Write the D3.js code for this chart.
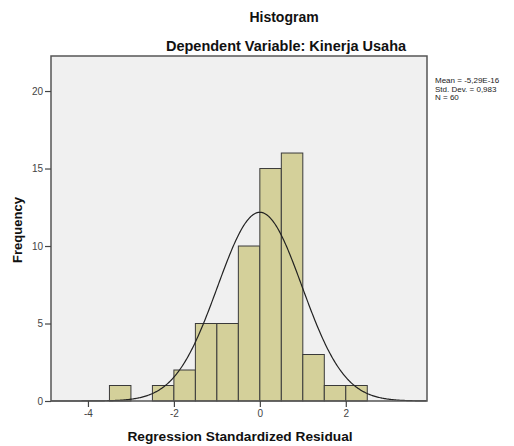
<!DOCTYPE html>
<html>
<head>
<meta charset="utf-8">
<script src="https://cdn.jsdelivr.net/npm/d3@7"></script>
<style>
	body { margin: 0; background: #fff; }
	text { font-family: "Liberation Sans", Arial, sans-serif; }
</style>
</head>
<body>
<div id="chart"></div>
<script>
var width = 514;
var height = 446;

// bin edges (lower bound of each 0.5 wide bin) and counts
var binStarts = [-3.5, -2.5, -2.0, -1.5, -1.0, -0.5, 0.0, 0.5, 1.0, 1.5, 2.0];
var binCounts = [1, 1, 2, 5, 5, 10, 15, 16, 3, 1, 1];
var binWidth = 0.5;

var xTicks = [-4, -2, 0, 2];
var yTicks = [0, 5, 10, 15, 20];

var statMean = -5.29e-16;
var statSd = 0.983;
var statN = 60;
var legendLines = ["Mean = -5,29E-16", "Std. Dev. = 0,983", "N = 60"];

var margin = { left: 51, right: 87, top: 56, bottom: 45 };

var x = d3.scaleLinear()
	.domain([-4.86, 3.89])
	.range([margin.left, width - margin.right]);

var y = d3.scaleLinear()
	.domain([0, 22.26])
	.range([height - margin.bottom, margin.top]);

var svg = d3.select("#chart")
	.append("svg")
		.attr("width", width)
		.attr("height", height)
	;

// plot background
svg.append("rect")
	.attr("x", x.range()[0])
	.attr("y", y.range()[1])
	.attr("width", x.range()[1] - x.range()[0])
	.attr("height", y.range()[0] - y.range()[1])
	.attr("fill", "#f0f0f0")
	;

// bars
svg.selectAll("rect.bar")
	.data(binStarts)
	.enter()
		.append("rect")
			.attr("class", "bar")
			.attr("x", d => x(d))
			.attr("width", d => x(d + binWidth) - x(d))
			.attr("y", (d, i) => y(binCounts[i]))
			.attr("height", (d, i) => y(0) - y(binCounts[i]))
			.attr("fill", "#d4d09a")
			.attr("stroke", "#3a3a3a")
			.attr("stroke-width", 1)
	;

// normal curve scaled to frequencies
var curvePts = d3.range(x.domain()[0], x.domain()[1] + 0.001, 0.02).map(function(v) {
	var z = (v - statMean) / statSd;
	var f = statN * binWidth / (statSd * Math.sqrt(2 * Math.PI)) * Math.exp(-0.5 * z * z);
	return [v, f];
});

svg.append("path")
	.datum(curvePts)
	.attr("fill", "none")
	.attr("stroke", "#222")
	.attr("stroke-width", 1.2)
	.attr("d", d3.line().x(d => x(d[0])).y(d => y(d[1])))
	;

// frame
svg.append("rect")
	.attr("x", x.range()[0])
	.attr("y", y.range()[1])
	.attr("width", x.range()[1] - x.range()[0])
	.attr("height", y.range()[0] - y.range()[1])
	.attr("fill", "none")
	.attr("stroke", "#555")
	.attr("stroke-width", 1.5)
	;

// axes
var xAxis = svg.append("g")
	.attr("transform", "translate(0," + y(0) + ")")
	.call(d3.axisBottom(x).tickValues(xTicks).tickSize(6).tickPadding(3).tickFormat(d => String(d)));

var yAxis = svg.append("g")
	.attr("transform", "translate(" + x.range()[0] + ",0)")
	.call(d3.axisLeft(y).tickValues(yTicks).tickSize(6).tickPadding(2).tickFormat(d => String(d)));

[xAxis, yAxis].forEach(function(g) {
	g.select(".domain").remove();
	g.selectAll(".tick line").attr("stroke", "#444").attr("stroke-width", 1.2);
	g.selectAll(".tick text")
		.attr("fill", "#444")
		.style("font-size", "10px")
		.style("font-family", "'Liberation Sans', Arial, sans-serif");
});

// titles
svg.append("text")
	.attr("x", 284)
	.attr("y", 22)
	.attr("text-anchor", "middle")
	.style("font-size", "14px")
	.style("font-weight", "bold")
	.attr("fill", "#111")
	.text("Histogram");

svg.append("text")
	.attr("x", 286)
	.attr("y", 51)
	.attr("text-anchor", "middle")
	.style("font-size", "14.5px")
	.style("font-weight", "bold")
	.attr("fill", "#111")
	.text("Dependent Variable: Kinerja Usaha");

svg.append("text")
	.attr("x", 240)
	.attr("y", 441)
	.attr("text-anchor", "middle")
	.style("font-size", "13.7px")
	.style("font-weight", "bold")
	.attr("fill", "#111")
	.text("Regression Standardized Residual");

svg.append("text")
	.attr("transform", "translate(22,230) rotate(-90)")
	.attr("text-anchor", "middle")
	.style("font-size", "13px")
	.style("font-weight", "bold")
	.attr("fill", "#111")
	.text("Frequency");

// stats legend
svg.selectAll("text.legend")
	.data(legendLines)
	.enter()
		.append("text")
			.attr("class", "legend")
			.attr("x", 435)
			.attr("y", (d, i) => 83 + i * 8.5)
			.style("font-size", "8px")
			.attr("fill", "#222")
			.text(d => d)
	;
</script>
</body>
</html>
